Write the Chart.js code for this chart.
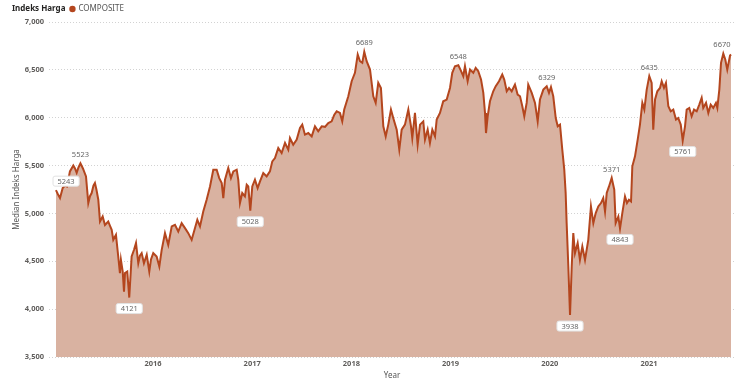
<!DOCTYPE html>
<html>
<head>
<meta charset="utf-8">
<script src="https://cdn.jsdelivr.net/npm/chart.js@4"></script>
<style>
  html, body { margin: 0; padding: 0; background: #fff; }
</style>
</head>
<body>
<canvas id="hargaChart" width="736" height="386"></canvas>
<script>
// tanggal sebagai tahun desimal
const tahun = [
  2015.022, 2015.042, 2015.063, 2015.090, 2015.113, 2015.133, 2015.163, 2015.197, 2015.214, 2015.231,
  2015.249, 2015.269, 2015.294, 2015.325, 2015.348, 2015.365, 2015.382, 2015.400, 2015.415, 2015.430,
  2015.449, 2015.466, 2015.493, 2015.516, 2015.549, 2015.567, 2015.584, 2015.600, 2015.627, 2015.650,
  2015.667, 2015.677, 2015.695, 2015.708, 2015.718, 2015.741, 2015.761, 2015.785, 2015.809, 2015.829,
  2015.852, 2015.869, 2015.886, 2015.909, 2015.937, 2015.963, 2015.980, 2016.003, 2016.037, 2016.064,
  2016.088, 2016.121, 2016.154, 2016.189, 2016.222, 2016.255, 2016.289, 2016.323, 2016.356, 2016.390,
  2016.423, 2016.447, 2016.474, 2016.507, 2016.541, 2016.575, 2016.608, 2016.642, 2016.668, 2016.693,
  2016.709, 2016.726, 2016.759, 2016.786, 2016.810, 2016.844, 2016.860, 2016.877, 2016.900, 2016.927,
  2016.945, 2016.961, 2016.981, 2017.001, 2017.028, 2017.055, 2017.079, 2017.112, 2017.146, 2017.179,
  2017.203, 2017.230, 2017.263, 2017.297, 2017.331, 2017.364, 2017.381, 2017.414, 2017.449, 2017.482,
  2017.505, 2017.532, 2017.566, 2017.600, 2017.633, 2017.666, 2017.701, 2017.734, 2017.767, 2017.801,
  2017.828, 2017.852, 2017.885, 2017.908, 2017.928, 2017.969, 2018.003, 2018.036, 2018.064, 2018.087,
  2018.110, 2018.130, 2018.154, 2018.188, 2018.221, 2018.245, 2018.271, 2018.298, 2018.322, 2018.346,
  2018.372, 2018.399, 2018.422, 2018.457, 2018.483, 2018.507, 2018.540, 2018.574, 2018.601, 2018.614,
  2018.641, 2018.668, 2018.692, 2018.725, 2018.742, 2018.769, 2018.792, 2018.816, 2018.843, 2018.860,
  2018.893, 2018.926, 2018.961, 2018.994, 2019.017, 2019.044, 2019.078, 2019.105, 2019.128, 2019.145,
  2019.172, 2019.196, 2019.229, 2019.253, 2019.279, 2019.307, 2019.330, 2019.347, 2019.357, 2019.374,
  2019.397, 2019.430, 2019.455, 2019.488, 2019.521, 2019.541, 2019.566, 2019.589, 2019.616, 2019.649,
  2019.676, 2019.700, 2019.723, 2019.743, 2019.767, 2019.783, 2019.818, 2019.851, 2019.878, 2019.901,
  2019.935, 2019.969, 2019.992, 2020.012, 2020.035, 2020.060, 2020.080, 2020.103, 2020.126, 2020.146,
  2020.160, 2020.170, 2020.187, 2020.204, 2020.221, 2020.237, 2020.254, 2020.281, 2020.304, 2020.328,
  2020.355, 2020.388, 2020.415, 2020.439, 2020.463, 2020.489, 2020.516, 2020.539, 2020.557, 2020.574,
  2020.597, 2020.624, 2020.650, 2020.664, 2020.691, 2020.708, 2020.731, 2020.758, 2020.778, 2020.798,
  2020.819, 2020.832, 2020.859, 2020.886, 2020.909, 2020.933, 2020.953, 2020.977, 2021.003, 2021.027,
  2021.043, 2021.061, 2021.084, 2021.111, 2021.128, 2021.151, 2021.171, 2021.195, 2021.219, 2021.245,
  2021.272, 2021.295, 2021.320, 2021.340, 2021.363, 2021.380, 2021.406, 2021.430, 2021.454, 2021.481,
  2021.507, 2021.531, 2021.547, 2021.575, 2021.598, 2021.622, 2021.648, 2021.675, 2021.689, 2021.709,
  2021.726, 2021.749, 2021.769, 2021.789, 2021.817, 2021.827
];

const komposit = [
  5243, 5200, 5160, 5265, 5290, 5280, 5439, 5500, 5470, 5425,
  5480, 5523, 5470, 5387, 5108, 5180, 5213, 5290, 5318, 5250,
  5143, 4916, 4968, 4880, 4916, 4870, 4829, 4724, 4776, 4550,
  4376, 4515, 4393, 4183, 4376, 4393, 4121, 4550, 4620, 4690,
  4480, 4560, 4585, 4480, 4568, 4393, 4520, 4585, 4550, 4445,
  4620, 4794, 4672, 4864, 4881, 4811, 4899, 4846, 4794, 4724,
  4846, 4933, 4864, 5020, 5143, 5282, 5457, 5457, 5369, 5317,
  5160, 5352, 5474, 5369, 5439, 5457, 5352, 5108, 5213, 5178,
  5300, 5282, 5028, 5282, 5352, 5265, 5335, 5422, 5387, 5439,
  5544, 5579, 5683, 5631, 5736, 5666, 5788, 5718, 5771, 5893,
  5928, 5823, 5840, 5805, 5910, 5858, 5910, 5905, 5945, 5962,
  6032, 6067, 6050, 5962, 6085, 6224, 6381, 6469, 6660, 6590,
  6573, 6689, 6590, 6503, 6224, 6155, 6364, 6311, 5910, 5805,
  5928, 6085, 5998, 5875, 5666, 5875, 5928, 6085, 5910, 5788,
  6050, 5718, 5928, 5962, 5771, 5875, 5736, 5875, 5805, 5980,
  6050, 6172, 6190, 6311, 6469, 6538, 6548, 6490, 6433, 6538,
  6381, 6503, 6469, 6521, 6486, 6399, 6259, 6050, 5840, 6015,
  6172, 6276, 6330, 6381, 6451, 6399, 6276, 6311, 6276, 6346,
  6242, 6224, 6120, 6015, 6155, 6346, 6259, 6155, 5962, 6190,
  6294, 6329, 6259, 6320, 6224, 5997, 5910, 5928, 5666, 5457,
  5213, 4899, 4445, 3938, 4445, 4794, 4585, 4690, 4515, 4655,
  4515, 4724, 5073, 4899, 5003, 5073, 5108, 5160, 5020, 5213,
  5282, 5371, 5248, 4899, 4968, 4843, 5003, 5178, 5108, 5143,
  5125, 5492, 5596, 5771, 5928, 6155, 6085, 6294, 6435, 6364,
  5875, 6190, 6276, 6311, 6381, 6311, 6364, 6120, 6067, 6085,
  5980, 5997, 5928, 5761, 5910, 6085, 6102, 6015, 6085, 6067,
  6137, 6207, 6102, 6155, 6050, 6137, 6102, 6155, 6102, 6294,
  6573, 6670, 6608, 6503, 6650, 6660
];

const tahunTick = [2016, 2017, 2018, 2019, 2020, 2021];
const labelNilai = [5243, 5523, 4121, 5028, 6689, 6548, 6329, 3938, 5371, 4843, 6435, 5761, 6670];

const FONT = '"Segoe UI", "Noto Sans", sans-serif';
const warnaGaris = '#b4461e';
const warnaIsi = '#d9b2a1';

const labelPlugin = {
  id: 'labelTitik',
  afterDatasetsDraw(chart, args, opts) {
    const ctx = chart.ctx;
    const meta = chart.getDatasetMeta(0);
    const area = chart.chartArea;
    ctx.save();
    ctx.font = '7.5px ' + FONT;
    ctx.textAlign = 'center';
    ctx.textBaseline = 'middle';
    labelNilai.forEach((nilai, i) => {
      const idx = komposit.indexOf(nilai);
      const pt = meta.data[idx];
      if (!pt) return;
      const teks = String(nilai);
      const w = ctx.measureText(teks).width + 9;
      const h = 10;
      const gaya = opts.gaya[i];
      let y = gaya === 'bawah' ? pt.y + 11 : pt.y - 9;
      let x = Math.max(area.left + 4 + w / 2, Math.min(area.right - w / 2, pt.x));
      if (gaya !== 'atas') {
        ctx.fillStyle = '#fff';
        ctx.strokeStyle = '#e2e2e2';
        ctx.lineWidth = 1;
        ctx.beginPath();
        ctx.roundRect(x - w / 2, y - h / 2, w, h, 2);
        ctx.fill();
        ctx.stroke();
      }
      ctx.fillStyle = '#666';
      ctx.fillText(teks, x, y + 0.5);
    });
    ctx.restore();
  }
};

const headerPlugin = {
  id: 'judul',
  afterDraw(chart) {
    const ctx = chart.ctx;
    ctx.save();
    ctx.textBaseline = 'middle';
    ctx.fillStyle = '#252423';
    ctx.font = 'bold 8px ' + FONT;
    ctx.fillText('Indeks Harga', 12, 9);
    const w = ctx.measureText('Indeks Harga').width;
    ctx.fillStyle = warnaGaris;
    ctx.beginPath();
    ctx.arc(12 + w + 7, 9, 3.2, 0, Math.PI * 2);
    ctx.fill();
    ctx.fillStyle = '#555';
    ctx.font = '8px ' + FONT;
    ctx.fillText('COMPOSITE', 12 + w + 13, 9);
    ctx.restore();
  }
};

new Chart(document.getElementById('hargaChart'), {
  type: 'line',
  data: {
    datasets: [{
      label: 'COMPOSITE',
      data: tahun.map((t, i) => ({ x: t, y: komposit[i] })),
      borderColor: warnaGaris,
      backgroundColor: warnaIsi,
      borderWidth: 2,
      fill: 'start',
      pointRadius: 0,
      tension: 0
    }]
  },
  options: {
    responsive: false,
    animation: false,
    layout: { padding: { top: 22, right: 1, left: 0, bottom: 0 } },
    plugins: {
      legend: { display: false },
      tooltip: { enabled: false },
      labelTitik: {
        gaya: ['kotakAtas', 'atas', 'bawah', 'bawah', 'atas', 'atas', 'atas', 'bawah', 'atas', 'bawah', 'atas', 'bawah', 'atas']
      }
    },
    scales: {
      x: {
        type: 'linear',
        min: 2014.952,
        max: 2021.867,
        afterBuildTicks: scale => { scale.ticks = tahunTick.map(v => ({ value: v })); },
        afterFit: scale => { scale.height = 29; },
        grid: { display: false, drawTicks: false },
        border: { display: false },
        ticks: {
          padding: 2,
          color: '#605e5c',
          font: { family: FONT, size: 7.5, weight: 'bold' },
          callback: v => String(v),
          maxRotation: 0,
          autoSkip: false
        },
        title: {
          display: true,
          text: 'Year',
          color: '#555',
          font: { family: FONT, size: 8 },
          padding: { top: 0, bottom: 5 }
        }
      },
      y: {
        min: 3500,
        max: 7000,
        afterFit: scale => { scale.width = 49; },
        grid: { color: '#d2d2d2', lineWidth: 1, drawTicks: false },
        border: { display: false, dash: [1, 2] },
        ticks: {
          stepSize: 500,
          padding: 5,
          color: '#605e5c',
          font: { family: FONT, size: 7.5, weight: 'bold' },
          callback: v => v.toLocaleString('en-US')
        },
        title: {
          display: true,
          text: 'Median Indeks Harga',
          color: '#555',
          font: { family: FONT, size: 8 },
          padding: { top: 12, bottom: 0 }
        }
      }
    }
  },
  plugins: [labelPlugin, headerPlugin]
});
</script>
</body>
</html>
